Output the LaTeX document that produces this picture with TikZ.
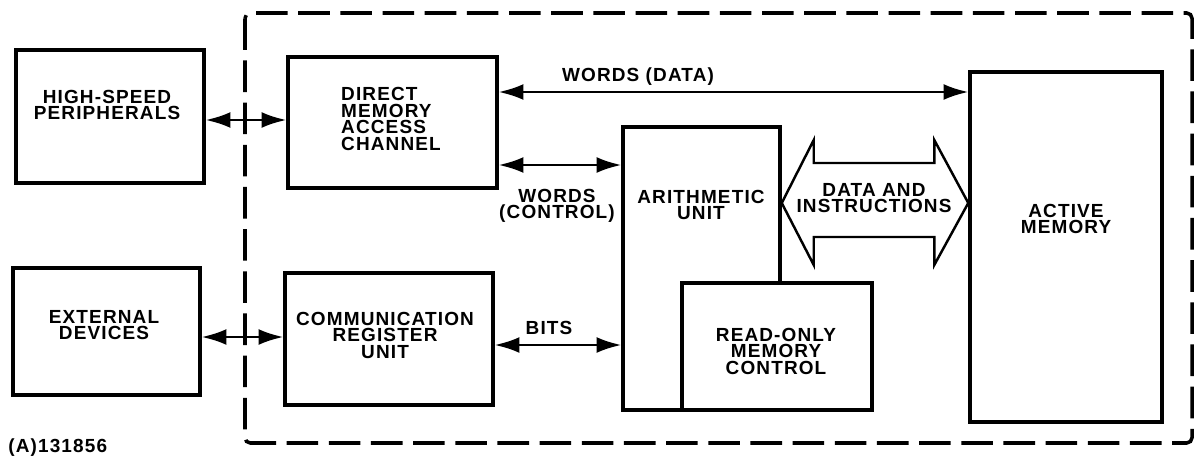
\documentclass[tikz,border=0pt]{standalone}
\usepackage{fontspec}
\newfontfamily\blockfont{Liberation Sans}[LetterSpace=6]
\usepackage{tikz}
\usetikzlibrary{arrows.meta,calc,positioning}

\begin{document}
\begin{tikzpicture}[
  x=0.02cm, y=-0.02cm,
  unit/.style={
    rectangle, draw=black, line width=2pt, fill=white,
    inner sep=0pt
  },
  lbl/.style={
    font=\blockfont\bfseries\fontsize{10.8}{9.4}\selectfont,
    align=center, inner sep=0pt
  },
  link/.style={{Latex[length=14pt,width=9pt]}-{Latex[length=14pt,width=9pt]}, line width=1.3pt},
  bus/.style={draw=black, line width=1.4pt, line join=miter},
  boundary/.style={draw=black, line width=2pt, dash pattern=on 18pt off 6pt, rounded corners=3pt}
]
  \useasboundingbox (0,0) rectangle (1196,466);

  % computer boundary
  \draw[boundary] (245,13) rectangle (1192,443);

  % blocks
  \node[unit, minimum width=3.76cm, minimum height=2.66cm] (hsp)   at (110,116.5) {};
  \node[unit, minimum width=3.74cm, minimum height=2.54cm] (ext)   at (106.5,331.5) {};
  \node[unit, minimum width=4.18cm, minimum height=2.62cm] (dma)   at (392.5,122.5) {};
  \node[unit, minimum width=4.16cm, minimum height=2.64cm] (cru)   at (389,339) {};
  \node[unit, minimum width=3.14cm, minimum height=5.66cm] (arith) at (701.5,268.5) {};
  \node[unit, minimum width=3.80cm, minimum height=2.54cm] (rom)   at (777,346.5) {};
  \node[unit, minimum width=3.84cm, minimum height=7.00cm] (mem)   at (1066,247) {};

  % block texts
  \node[lbl] (hsptxt)   at (107,105)  {HIGH-SPEED\\PERIPHERALS};
  \node[lbl] (exttxt)   at (104,325)  {EXTERNAL\\DEVICES};
  \node[lbl, align=left] (dmatxt) at (391,119) {DIRECT\\MEMORY\\ACCESS\\CHANNEL};
  \node[lbl] (crutxt)   at (385,335)  {COMMUNICATION\\REGISTER\\UNIT};
  \node[lbl] (arithtxt) at (701,205)  {ARITHMETIC\\UNIT};
  \node[lbl] (romtxt)   at (776,351)  {READ-ONLY\\MEMORY\\CONTROL};
  \node[lbl] (memtxt)   at (1066,219) {ACTIVE\\MEMORY};

  % connectors
  \draw[link] (hsp.east |- 0,120) -- (dma.west |- 0,120);
  \draw[link] (ext.east |- 0,337) -- (cru.west |- 0,337);
  \draw[link] (dma.east |- 0,92)  -- (mem.west |- 0,92);
  \draw[link] (dma.east |- 0,165) -- (arith.west |- 0,165);
  \draw[link] (cru.east |- 0,345) -- (arith.west |- 0,345);

  % data and instructions bus
  \coordinate (dl) at (arith.east |- 0,203);
  \coordinate (dr) at (mem.west |- 0,203);
  \draw[bus] (dl) -- ++(32,-63) -- ++(0,23) -- ($(dr)+(-34,-40)$) -- ++(0,-23)
    -- (dr) -- ++(-34,62) -- ++(0,-28) -- ($(dl)+(32,34)$) -- ++(0,28) -- cycle;

  % connector labels
  \node[lbl] (wdata) at (638,77)  {WORDS (DATA)};
  \node[lbl] (wctrl) at (557,206) {WORDS\\(CONTROL)};
  \node[lbl] (bits)  at (549,328) {BITS};
  \node[lbl] (dinst) at (874,198) {DATA AND\\INSTRUCTIONS};

  \node[lbl, anchor=west] (figno) at (8,448) {(A)131856};
\end{tikzpicture}
\end{document}
